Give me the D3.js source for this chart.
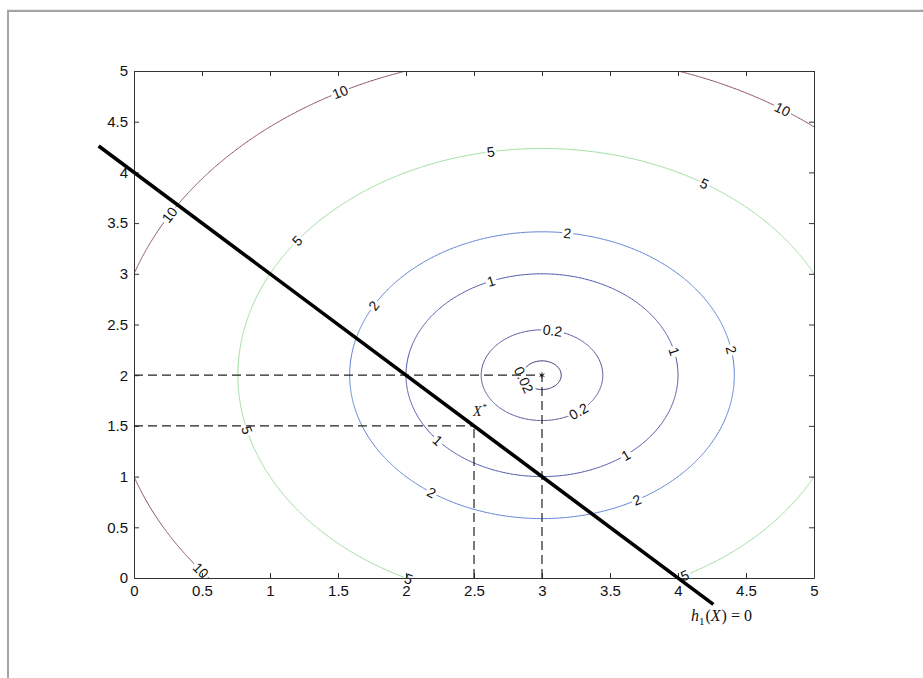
<!DOCTYPE html>
<html><head><meta charset="utf-8">
<script src="https://cdn.jsdelivr.net/npm/d3@7"></script>
<style>
html,body{margin:0;padding:0;background:#fff;}
svg{display:block;}
</style></head><body>
<svg id="chart" width="923" height="678"></svg>
<script>
// ---- data ----
const contourLevels = [0.02, 0.2, 1, 2, 5, 10];
const contourColors = ["#3a3a7a", "#56589a", "#4a54a8", "#5d80d4", "#9edd9e", "#8a4d5f"];
const minimumX = 3, minimumY = 2;          // minimiser of f(x,y) = (x-3)^2 + (y-2)^2
const xTicks = [0, 0.5, 1, 1.5, 2, 2.5, 3, 3.5, 4, 4.5, 5];
const yTicks = [0, 0.5, 1, 1.5, 2, 2.5, 3, 3.5, 4, 4.5, 5];
// inline contour labels: level and position angle (deg) around the minimum
const labelLevels = [10, 10, 10, 10, 5, 5, 5, 5, 5, 5, 2, 2, 2, 2, 2, 1, 1, 1, 1, 0.2, 0.2, 0.02];
const labelAngles = [118, 56, 150, 217.5, 99.7, 57.7, 143.6, 194, 244, 298, 82.4, 10.2, 151, 234.9, 299.6, 112, 13.5, 220, 308, 80, 307, 199];
// constraint h1(X) = x + y - 4 = 0
const constraintX = [-0.26, 4.26];
const constraintY = [4.26, -0.26];
// dashed guide lines
const guideX1 = [0, 0, 2.5, 3];
const guideY1 = [2, 1.5, 0, 0];
const guideX2 = [3, 2.5, 2.5, 3];
const guideY2 = [2, 1.5, 1.5, 2];
const optimumX = 2.5, optimumY = 1.5;

// ---- layout ----
const svg = d3.select("#chart");
const plotLeft = 134, plotTop = 71, W = 680, H = 507;
const xs = d3.scaleLinear().domain([0, 5]).range([plotLeft, plotLeft + W]);
const ys = d3.scaleLinear().domain([0, 5]).range([plotTop + H, plotTop]);

// figure frame
svg.append("rect").attr("x", 7).attr("y", 9).attr("width", 916).attr("height", 1).attr("fill", "#ececec");
svg.append("rect").attr("x", 7).attr("y", 10).attr("width", 916).attr("height", 2).attr("fill", "#a4a4a4");
svg.append("rect").attr("x", 7).attr("y", 10).attr("width", 2).attr("height", 668).attr("fill", "#a4a4a4");

svg.append("clipPath").attr("id", "plotclip").append("rect")
  .attr("x", plotLeft).attr("y", plotTop).attr("width", W).attr("height", H);

// ---- contours ----
const f = (x, y) => (x - minimumX) ** 2 + (y - minimumY) ** 2;
const gx0 = -1, gy0 = -2, step = 0.01, n = 801, m = 801;
const values = new Float64Array(n * m);
for (let j = 0; j < m; j++) for (let i = 0; i < n; i++) values[j * n + i] = f(gx0 + i * step, gy0 + j * step);
const contours = d3.contours().size([n, m]).thresholds(contourLevels)(values);
const proj = d3.geoTransform({
  point(x, y) { this.stream.point(xs(gx0 + (x - 0.5) * step), ys(gy0 + (y - 0.5) * step)); }
});
const path = d3.geoPath(proj);
svg.append("g").attr("clip-path", "url(#plotclip)")
  .selectAll("path").data(contours).join("path")
  .attr("d", path)
  .attr("fill", "none")
  .attr("stroke", (d, i) => contourColors[i])
  .attr("stroke-width", 1);

// ---- contour labels ----
const kx = xs(1) - xs(0), ky = ys(0) - ys(1);
const labelLayer = svg.append("g");
labelLevels.forEach((lev, i) => {
  const r = Math.sqrt(lev), t = labelAngles[i] * Math.PI / 180;
  const px = xs(minimumX + r * Math.cos(t)), py = ys(minimumY + r * Math.sin(t));
  let rot = Math.atan2(-ky * r * Math.cos(t), -kx * r * Math.sin(t)) * 180 / Math.PI;
  if (rot > 90) rot -= 180;
  if (rot < -90) rot += 180;
  const g = labelLayer.append("g").attr("transform", `translate(${px},${py}) rotate(${rot})`);
  const txt = g.append("text").text(String(lev))
    .attr("text-anchor", "middle").attr("dominant-baseline", "central")
    .attr("font-family", "Liberation Sans, Arial, sans-serif").attr("font-size", 14)
    .attr("fill", "#111");
  const bb = txt.node().getBBox();
  g.insert("rect", "text").attr("x", bb.x - 1.5).attr("y", bb.y + 1).attr("width", bb.width + 3).attr("height", bb.height - 2)
    .attr("fill", "#fff");
});

// ---- axes ----
const fmt = d => String(d);
const axStyle = g => {
  g.select(".domain").attr("stroke", "#333");
  g.selectAll(".tick line").attr("stroke", "#333");
  g.selectAll(".tick text").attr("fill", "#111").attr("font-size", 15)
    .attr("font-family", "Liberation Sans, Arial, sans-serif");
};
svg.append("g").attr("transform", `translate(0,${plotTop + H})`)
  .call(d3.axisBottom(xs).tickValues(xTicks).tickFormat(fmt).tickSizeInner(-5).tickSizeOuter(0).tickPadding(7)).call(axStyle);
svg.append("g").attr("transform", `translate(${plotLeft},0)`)
  .call(d3.axisLeft(ys).tickValues(yTicks).tickFormat(fmt).tickSizeInner(-5).tickSizeOuter(0).tickPadding(6)).call(axStyle);
svg.append("g").attr("transform", `translate(0,${plotTop})`)
  .call(d3.axisTop(xs).tickValues(xTicks).tickFormat("").tickSizeInner(-5).tickSizeOuter(0)).call(axStyle);
svg.append("g").attr("transform", `translate(${plotLeft + W},0)`)
  .call(d3.axisRight(ys).tickValues(yTicks).tickFormat("").tickSizeInner(-5).tickSizeOuter(0)).call(axStyle);

// ---- dashed guides ----
svg.append("g").selectAll("line").data(guideX1).join("line")
  .attr("x1", (d, i) => xs(guideX1[i])).attr("y1", (d, i) => ys(guideY1[i]))
  .attr("x2", (d, i) => xs(guideX2[i])).attr("y2", (d, i) => ys(guideY2[i]))
  .attr("stroke", "#222").attr("stroke-width", 1.2).attr("stroke-dasharray", "9,5");

// minimum marker
svg.append("path").attr("d", d3.symbol(d3.symbolAsterisk, 22)())
  .attr("transform", `translate(${xs(minimumX)},${ys(minimumY)})`)
  .attr("fill", "none").attr("stroke", "#111").attr("stroke-width", 0.9);

// ---- constraint line ----
svg.append("path")
  .attr("d", d3.line().x((d, i) => xs(constraintX[i])).y((d, i) => ys(constraintY[i]))(constraintX))
  .attr("stroke", "#000").attr("stroke-width", 3.6).attr("fill", "none");

// ---- annotations ----
const serif = "Liberation Serif, Times New Roman, serif";
const xstar = svg.append("text").attr("x", xs(optimumX) - 1).attr("y", ys(optimumY) - 10)
  .attr("font-family", serif).attr("font-size", 14).attr("fill", "#111");
xstar.append("tspan").attr("font-style", "italic").text("X");
xstar.append("tspan").attr("font-size", 9).attr("dy", -6).attr("dx", 1).text("*");

const hl = svg.append("text").attr("x", 691).attr("y", 621)
  .attr("font-family", serif).attr("font-size", 16).attr("fill", "#111");
hl.append("tspan").attr("font-style", "italic").text("h");
hl.append("tspan").attr("font-size", 11).attr("dy", 4).text("1");
hl.append("tspan").attr("dy", -4).attr("dx", 1).text("(");
hl.append("tspan").attr("font-style", "italic").text("X");
hl.append("tspan").attr("dx", 1).text(")");
hl.append("tspan").attr("dx", 4).text("=");
hl.append("tspan").attr("dx", 4).text("0");
</script>
</body></html>
